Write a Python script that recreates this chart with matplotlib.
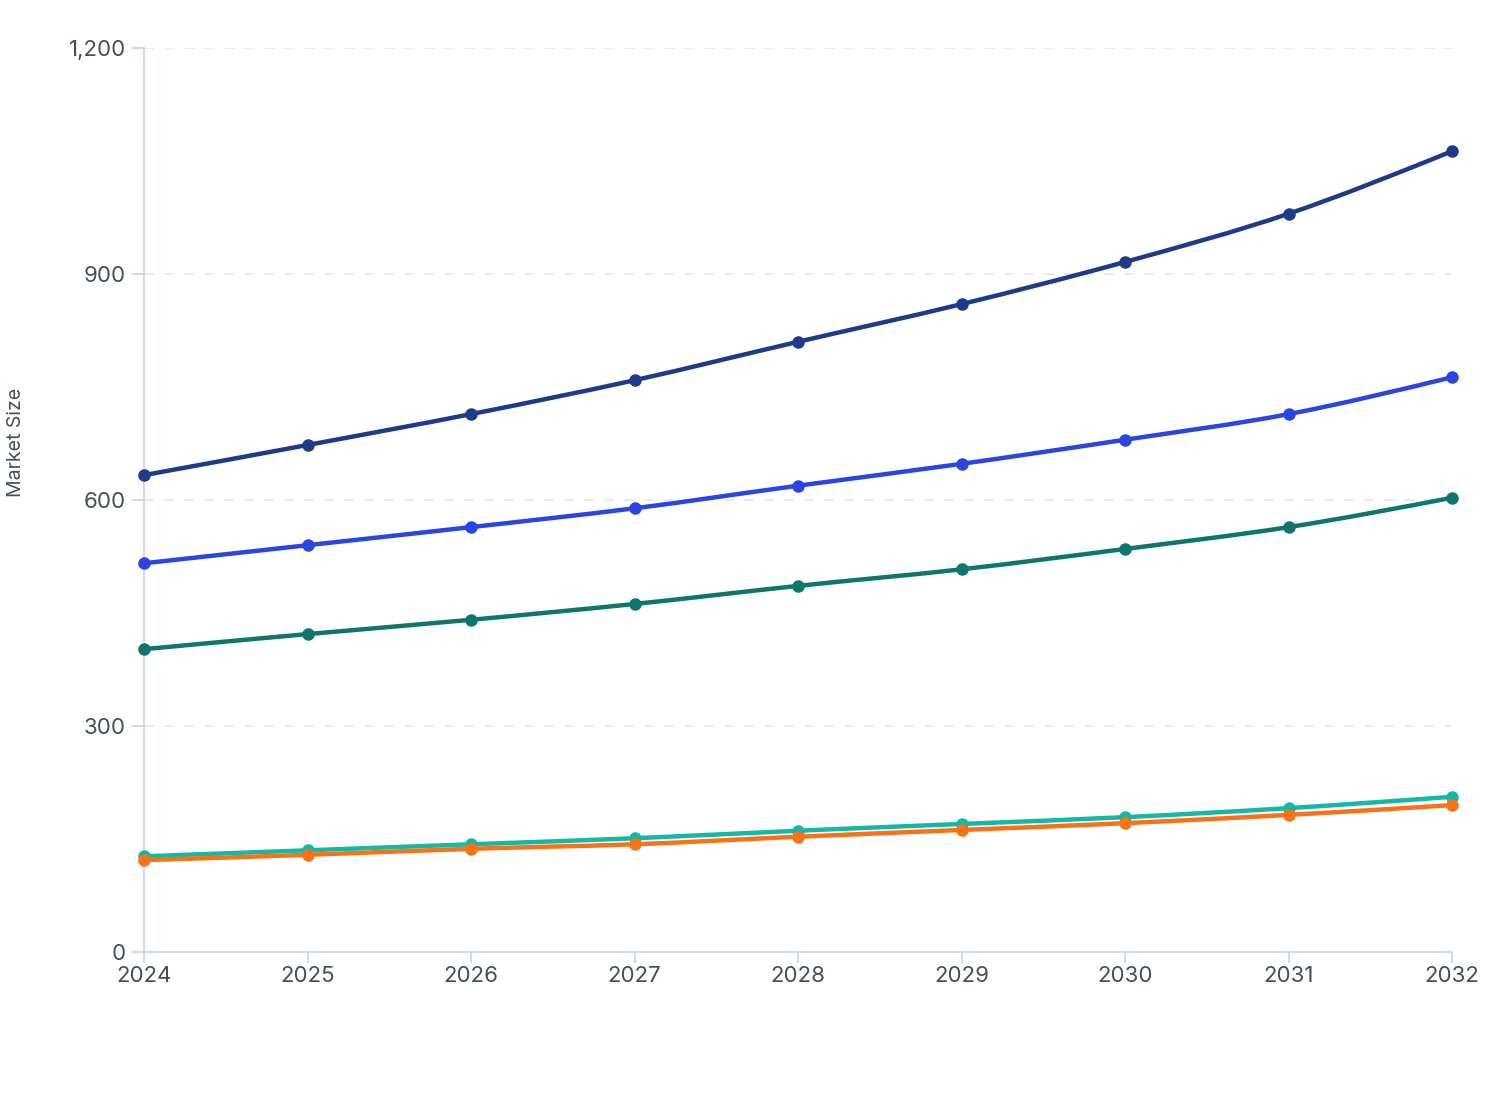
import matplotlib
matplotlib.use("Agg")
import matplotlib.pyplot as plt
from matplotlib.path import Path
from matplotlib.patches import PathPatch
from matplotlib.ticker import FuncFormatter
import numpy as np

plt.rcParams['font.family'] = ['Inter', 'DejaVu Sans']

years = [2024, 2025, 2026, 2027, 2028, 2029, 2030, 2031, 2032]
series_a = [633, 673, 714, 759, 810, 860, 916, 980, 1063]
series_b = [516, 540, 564, 589, 619, 648, 680, 714, 763]
series_c = [402, 422, 441, 462, 486, 508, 535, 564, 603]
series_d = [127, 135, 143, 151, 161, 170, 179, 191, 206]
series_e = [122, 129, 137, 143, 153, 162, 171, 182, 195]

colors = ['#1e3a8a', '#2b45e0', '#0f766e', '#14b8a6', '#f97316']
axis_col = '#c7d0f0'
text_col = '#434d5e'


def monotone_path(x, y):
    # monotone-x cubic (like d3.curveMonotoneX) as bezier segments
    x = np.asarray(x, float)
    y = np.asarray(y, float)
    n = len(x)
    h = np.diff(x)
    s = np.diff(y) / h
    t = np.zeros(n)
    for i in range(1, n - 1):
        if s[i - 1] * s[i] <= 0:
            t[i] = 0
        else:
            p = (s[i - 1] * h[i] + s[i] * h[i - 1]) / (h[i - 1] + h[i])
            t[i] = np.sign(s[i - 1]) * min(abs(s[i - 1]), abs(s[i]), 0.5 * abs(p)) * 2
    t[0] = (3 * s[0] - t[1]) / 2 if n > 2 else s[0]
    t[-1] = (3 * s[-1] - t[-2]) / 2 if n > 2 else s[-1]
    verts = [(x[0], y[0])]
    codes = [Path.MOVETO]
    for i in range(n - 1):
        dx = h[i] / 3
        verts += [(x[i] + dx, y[i] + dx * t[i]),
                  (x[i + 1] - dx, y[i + 1] - dx * t[i + 1]),
                  (x[i + 1], y[i + 1])]
        codes += [Path.CURVE4] * 3
    return Path(verts, codes)


fig = plt.figure(figsize=(15.08, 11.2), dpi=100)
ax = fig.add_axes([144 / 1508, 1 - 952 / 1120, (1452 - 144) / 1508, (952 - 48) / 1120])

for vals, col in zip([series_a, series_b, series_c, series_d, series_e], colors):
    patch = PathPatch(monotone_path(years, vals), facecolor='none', edgecolor=col,
                      lw=3.2, capstyle='round', joinstyle='round', clip_on=False, zorder=3)
    ax.add_patch(patch)
    ax.plot(years, vals, 'o', color=col, ms=8, clip_on=False, zorder=4)

ax.set_xlim(2024, 2032)
ax.set_ylim(0, 1200)
ax.set_xticks(years)
ax.set_yticks([0, 300, 600, 900, 1200])
ax.yaxis.set_major_formatter(FuncFormatter(lambda v, p: f"{int(v):,}"))

for v in [300, 600, 900, 1200]:
    ax.axhline(v, color='#e3e6ee', lw=1.2, dashes=(6, 6), zorder=1)

for side in ['top', 'right']:
    ax.spines[side].set_visible(False)
for side in ['left', 'bottom']:
    ax.spines[side].set_color(axis_col)
    ax.spines[side].set_linewidth(1.2)

ax.tick_params(axis='both', colors=axis_col, labelcolor=text_col, labelsize=16, width=1.2)
ax.tick_params(axis='y', length=9, pad=4)
ax.tick_params(axis='x', length=8, pad=2)

fig.text(16 / 1508, 1 - 442 / 1120, 'Market Size', rotation=90, fontsize=14,
         color=text_col, ha='center', va='center')

fig.savefig('out.png', dpi=100, facecolor='white')
